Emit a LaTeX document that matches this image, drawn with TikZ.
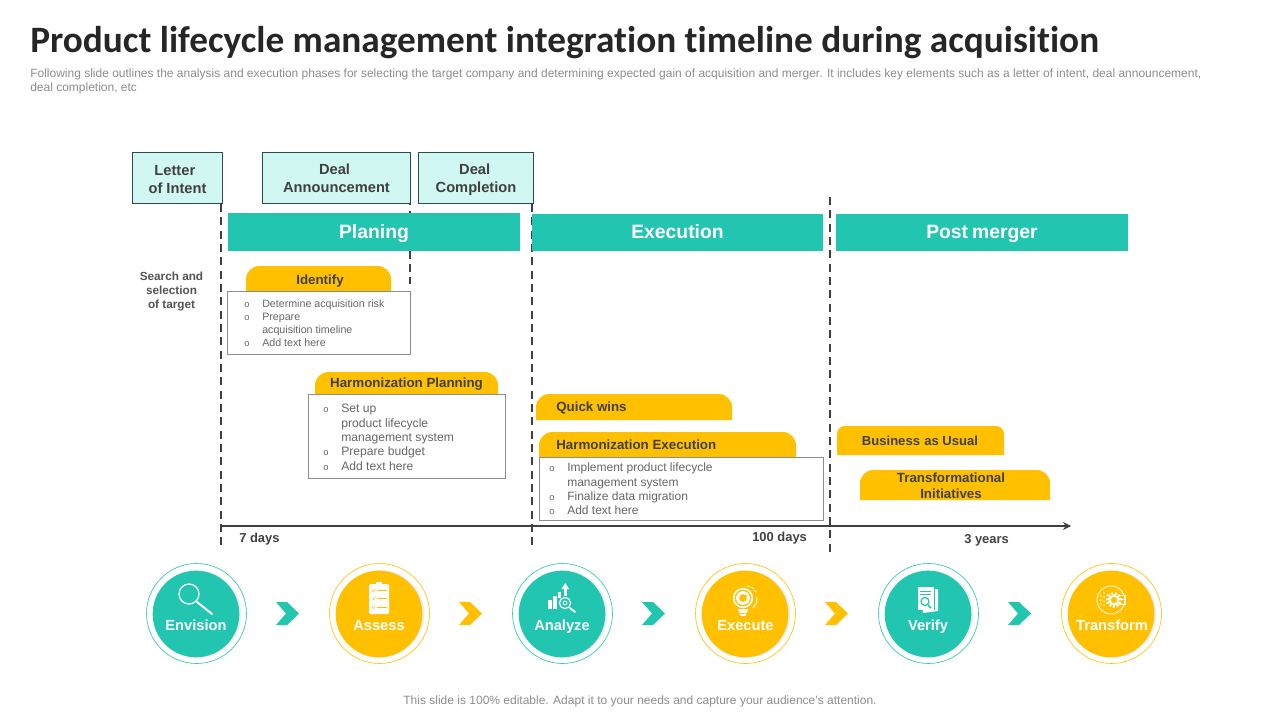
\documentclass[tikz,border=0pt]{standalone}
\usepackage{fontspec}
\setmainfont{Liberation Sans}
\newfontfamily\titlefont[Ligatures=NoCommon]{Carlito}
\usetikzlibrary{arrows.meta}
\definecolor{teal1}{HTML}{22C5B0}
\definecolor{gold1}{HTML}{FFC000}
\definecolor{mint1}{HTML}{D0F7F2}
\definecolor{ink1}{HTML}{404040}
\definecolor{sub1}{HTML}{8C8C8C}
\definecolor{list1}{HTML}{666666}
\definecolor{edge1}{HTML}{2F4A4A}
\newcommand{\bl}[1]{\makebox[#1][l]{\fontsize{7}{7}\selectfont o}}
\tikzset{
  x=0.75pt,y=-0.75pt,
  milestone/.style={draw=edge1,fill=mint1,line width=0.6pt,inner sep=0pt,align=center,text=ink1,font=\fontsize{11}{13.5}\selectfont\bfseries},
  phase/.style={fill=teal1,inner sep=0pt,text=white,text height=11pt,text depth=1.5pt,font=\fontsize{14.5}{18}\selectfont\bfseries},
  vline/.style={draw=ink1,line width=1.4pt,dash pattern=on 6pt off 4pt},
  tab/.style={fill=gold1,rounded corners=#1},
  tablabel/.style={inner sep=0pt,text=ink1,align=center,font=\fontsize{10}{12}\selectfont\bfseries},
  tabline/.style={tablabel,text height=7.2pt,text depth=0pt},
  listbox/.style={draw=gray!90,fill=white,line width=0.6pt,inner sep=0pt},
  plain/.style={inner sep=0pt,text=ink1,font=\fontsize{9.7}{12}\selectfont\bfseries},
  ringT/.style={circle,draw=teal1,line width=0.45pt,fill=white,minimum size=75pt,inner sep=0pt},
  ringG/.style={circle,draw=gold1,line width=0.45pt,fill=white,minimum size=75pt,inner sep=0pt},
  discT/.style={circle,fill=teal1,minimum size=65pt,inner sep=0pt},
  discG/.style={circle,fill=gold1,minimum size=65pt,inner sep=0pt},
  disclabel/.style={inner sep=0pt,text=white,text height=8.5pt,text depth=2.5pt,font=\fontsize{11}{13}\selectfont\bfseries},
  ic/.style={draw=white,line width=0.9pt,line cap=round},
  icf/.style={fill=white},
}
\begin{document}
\begin{tikzpicture}
\useasboundingbox (0,0) rectangle (1280,720);

% header
\node[anchor=base west,inner sep=0pt,text=black!85,font=\titlefont\fontsize{27.95}{32}\selectfont\bfseries] (title) at (30,53) {Product lifecycle management integration timeline during acquisition};
\node[anchor=base west,inner sep=0pt,text=sub1,font=\fontsize{9}{10.7}\selectfont,align=left] (subtitle) at (30,92) {Following slide outlines the analysis and execution phases for selecting the target company and determining expected gain of acquisition and merger. It includes key elements such as a letter of intent, deal announcement,\\deal completion, etc};

% milestones
\node[milestone,minimum width=67.5pt,minimum height=38.25pt] (loi) at (177.5,178) {\rule{0pt}{9.5pt}Letter\hspace*{4pt}\\of Intent};
\node[milestone,minimum width=111pt,minimum height=38.25pt] (ann) at (336.5,178) {Deal\hspace*{3pt}\\Announcement};
\node[milestone,minimum width=86.25pt,minimum height=38.25pt] (comp) at (476,178) {\rule{0pt}{10.5pt}Deal\hspace*{2pt}\\Completion};

% dashed lines
\coordinate (v1t) at (221,204); \coordinate (v1b) at (221,548);
\coordinate (v2t) at (410,204); \coordinate (v2b) at (410,284);
\coordinate (v3t) at (532,204); \coordinate (v3b) at (532,548);
\coordinate (v4t) at (830,197); \coordinate (v4b) at (830,552);
\draw[vline] (v1t) -- (v1b);
\draw[vline,dash phase=5pt] (v2t) -- (v2b);
\draw[vline] (v3t) -- (v3b);
\draw[vline] (v4t) -- (v4b);

% phases
\node[phase,minimum width=219pt,minimum height=28.5pt] (plan) at (374,232) {Planing};
\node[phase,minimum width=218.25pt,minimum height=27.75pt] (exec) at (677.5,232.5) {Execution};
\node[phase,minimum width=219pt,minimum height=27.75pt] (post) at (982,232.5) {Post\hspace{-1pt} merger};

\node[inner sep=0pt,text=ink1!90,align=center,font=\fontsize{8.8}{10.5}\selectfont\bfseries] (search) at (171.5,291) {Search and\\selection\\of target};

% Identify
\fill[tab=10pt] (246,292) -- (246,266) -- (391,266) [sharp corners] -- (391,292) -- cycle;
\node[tabline] (idl) at (320,279.5) {Identify};
\node[listbox,minimum width=137.25pt,minimum height=47.25pt] (idb) at (318.5,322.5) {};
\node[anchor=north west,inner sep=0pt,text=list1,align=left,font=\fontsize{8}{9.75}\selectfont] (idt) at (244,300) {\bl{13.5pt}Determine acquisition risk\\\bl{13.5pt}Prepare\\\hspace*{13.5pt}acquisition timeline\\\bl{13.5pt}Add text here};

% Harmonization planning
\fill[tab=10pt] (315,395) -- (315,372) -- (498,372) [sharp corners] -- (498,395) -- cycle;
\node[tabline] (hpl) at (406.5,383) {Harmonization Planning};
\node[listbox,minimum width=147.75pt,minimum height=63pt] (hpb) at (406.5,436) {};
\node[anchor=north west,inner sep=0pt,text=list1,align=left,font=\fontsize{9.1}{10.75}\selectfont] (hpt) at (323,404) {\bl{13.5pt}Set up\\\hspace*{13.5pt}product lifecycle\\\hspace*{13.5pt}management system\\\bl{13.5pt}Prepare budget\\\bl{13.5pt}Add text here};

% Execution tabs
\fill[tab=10pt] (536,420) -- (536,394) -- (732,394) [sharp corners] -- (732,420) -- cycle;
\node[tabline,anchor=west] (qwl) at (556,407) {Quick wins};
\fill[tab=10pt] (539,458) -- (539,432) -- (796,432) [sharp corners] -- (796,458) -- cycle;
\node[tabline,anchor=west] (hel) at (556,445) {Harmonization Execution};
\node[listbox,minimum width=213pt,minimum height=47.25pt] (heb) at (681.5,488.5) {};
\node[anchor=north west,inner sep=0pt,text=list1,align=left,font=\fontsize{9}{10.75}\selectfont] (het) at (549,463) {\bl{13.5pt}Implement product lifecycle\\\hspace*{13.5pt}management system\\\bl{13.5pt}Finalize data migration\\\bl{13.5pt}Add text here};

% Post merger tabs
\fill[tab=6pt] (837,455) -- (837,426) -- (1004,426) [sharp corners] -- (1004,455) -- cycle;
\node[tabline,font=\fontsize{9.8}{12}\selectfont\bfseries] (bul) at (920,441) {Business\hspace{0.5pt} as Usual};
\fill[tab=10pt] (860,500) -- (860,470) -- (1050,470) [sharp corners] -- (1050,500) -- cycle;
\node[tablabel] (til) at (951,486) {Transformational\\Initiatives};

% time axis
\coordinate (axs) at (221,526); \coordinate (axe) at (1071,526);
\draw[draw=ink1,line width=1.4pt,-{Stealth[length=6pt,width=6pt]}] (axs) -- (axe);
\node[plain,anchor=base west] (d7) at (239,542) {7 days};
\node[plain,anchor=base west] (d100) at (752,541) {100 days};
\node[plain,anchor=base west] (y3) at (964,543) {3 years};

% process circles
\foreach \nm/\cx/\rs/\ds in {a/196/ringT/discT,b/379/ringG/discG,c/562/ringT/discT,d/745/ringG/discG,e/928/ringT/discT,f/1111/ringG/discG}{
  \node[\rs] (r\nm) at (\cx+0.5,613.5) {};
  \fill[black!7] (\cx+1.5,614) circle[radius=32.8pt];
  \node[\ds] (c\nm) at (\cx,614) {};
}
\node[disclabel] (la) at (196,626) {Envision};
\node[disclabel] (lb) at (379,626) {Assess};
\node[disclabel] (lc) at (562,626) {Analyze};
\node[disclabel] (ld) at (745.5,626) {Execute};
\node[disclabel] (le) at (928,626) {Verify};
\node[disclabel] (lf) at (1112,626) {Transform};

% chevrons
\foreach \cx/\cc in {276/teal1,459/gold1,642/teal1,825/gold1,1008/teal1}{
  \fill[\cc] (\cx,602) -- (\cx+11,602) -- (\cx+23,613.5) -- (\cx+11,625) -- (\cx,625) -- (\cx+10,613.5) -- cycle;
}

% icon: magnifier
\draw[ic] (189,594) circle[radius=7.5pt];
\draw[ic,line width=1.5pt] (197,602) -- (212,614);
% icon: clipboard
\fill[icf,rounded corners=1pt] (369,584) rectangle (389,614);
\fill[icf] (376,582) rectangle (382,585);
\foreach \yy in {590,598,607}{
  \draw[gold1,line width=0.4pt] (372,\yy) -- (373.5,\yy+1.5) -- (375.5,\yy-1.5);
  \draw[gold1,line width=0.4pt] (377,\yy) -- (387,\yy);
}
% icon: analyze
\fill[icf] (548,600) rectangle (551.5,609);
\fill[icf] (553,596) rectangle (556.5,609);
\fill[icf] (558,592) rectangle (561,598);
\fill[icf] (563.5,589) rectangle (567,596);
\fill[icf] (561.5,589) -- (565.2,583) -- (569,589) -- cycle;
\draw[ic] (565,603) circle[radius=4.2pt];
\draw[ic,line width=0.6pt] (565,603) circle[radius=1.5pt];
\draw[ic,line width=1.4pt] (570,608) -- (575,612);
% icon: execute (bulb with gear)
\draw[ic,line width=1.2pt] (743,598) circle[radius=7pt];
\draw[white,line width=2.2pt] (743,598) circle[radius=4.2pt];
\draw[gold1,line width=0.7pt] (739.5,598) -- (742,601) -- (747,595);
\fill[icf] (738,609) -- (748,609) -- (747,613) -- (739,613) -- cycle;
\fill[icf] (740,614) rectangle (746,616);
\draw[ic,line width=0.7pt,dash pattern=on 2pt off 1.5pt] (747,586) -- (753,588) -- (756,592);
\draw[ic,line width=0.7pt] (757,597) -- (756.5,603) -- (753,608);
% icon: verify (papers)
\fill[icf] (921,589) -- (938,589) -- (938,611) -- (923,613) -- cycle;
\fill[teal1] (918,587) rectangle (935,610);
\fill[icf] (917.5,587) rectangle (934,610);
\draw[teal1,line width=0.5pt] (920,591) -- (931,591);
\draw[teal1,line width=0.5pt] (920,594.5) -- (931,594.5);
\draw[teal1,line width=0.9pt] (925,601.5) circle[radius=3pt];
\draw[teal1,line width=1.1pt] (928,605) -- (931,608);
% icon: transform
\draw[ic,line width=0.6pt] (1111,600) circle[radius=10.5pt];
\draw[white,line width=2pt,dash pattern=on 1.5pt off 1.2pt] (1114,600) circle[radius=4.8pt];
\draw[white,line width=1.4pt] (1114,600) circle[radius=3.2pt];
\foreach \xx/\yy in {1101/596,1101/600,1101/604,1104/593,1104/597,1104/601,1104/605,1107/595,1107/599,1107/603}{
  \fill[white] (\xx,\yy) circle[radius=0.7pt];
}
\draw[ic,line width=0.6pt] (1118,595) -- (1125,595) -- (1125,604) -- (1118,604);
\draw[ic,line width=0.6pt] (1120,599.5) -- (1125,599.5);

% footer
\node[inner sep=0pt,text=sub1,font=\fontsize{9}{11}\selectfont] (foot) at (640,701) {This slide is 100\% editable. Adapt it to your needs and capture your audience's attention.};
\end{tikzpicture}
\end{document}
